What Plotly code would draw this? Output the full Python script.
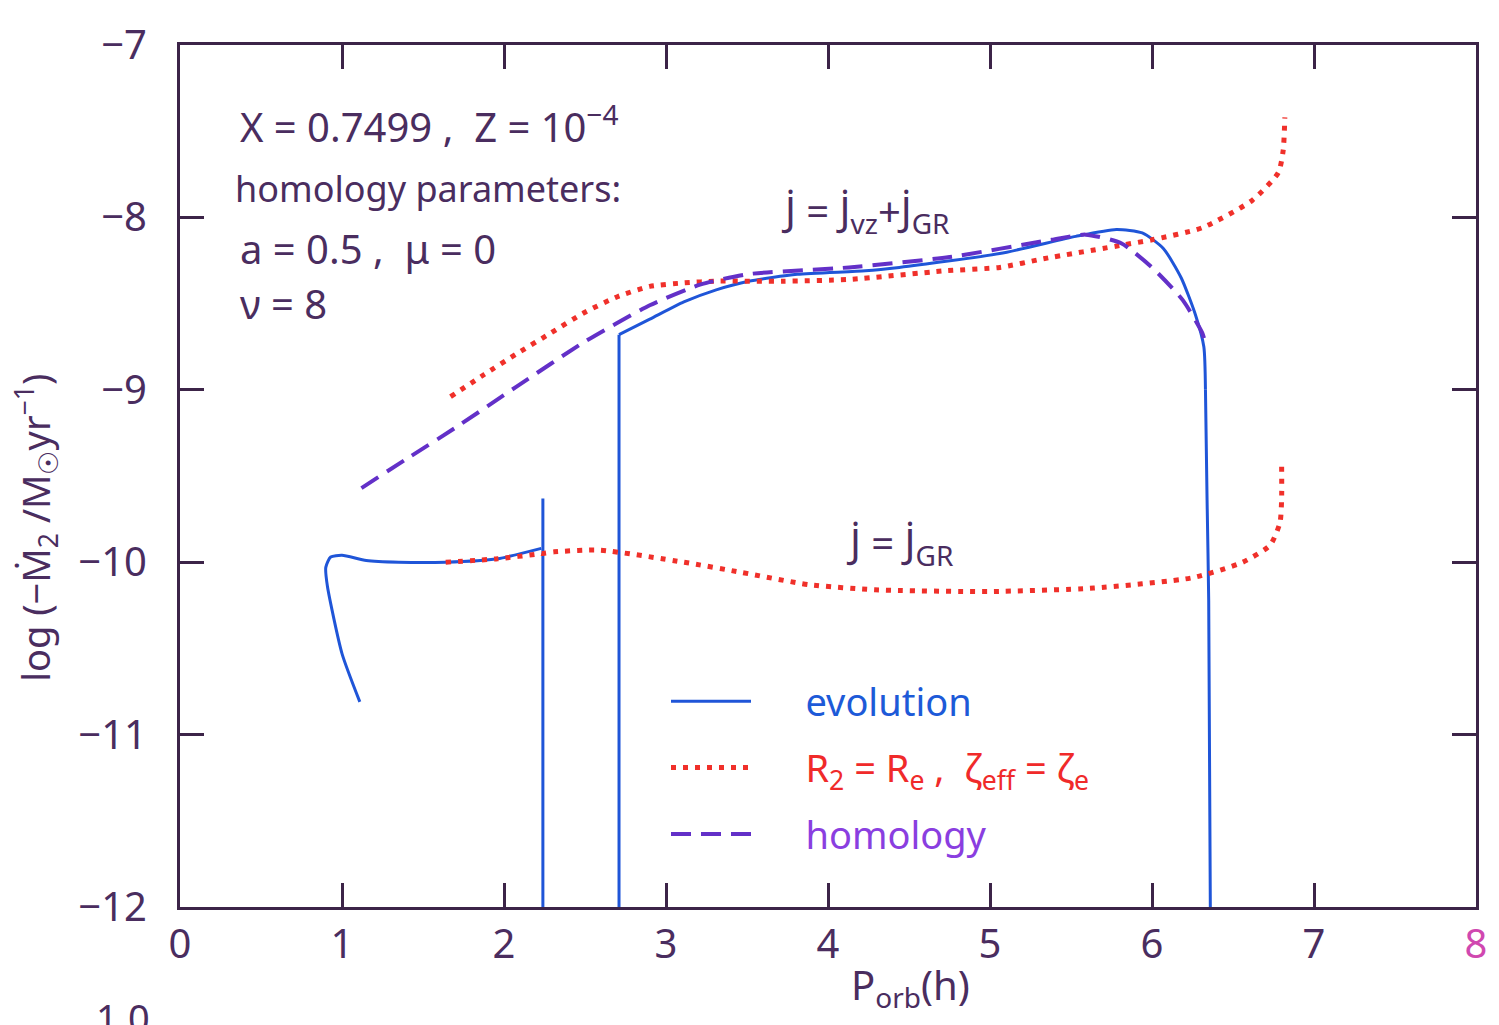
import plotly.graph_objects as go

# ---------------- data ----------------
# evolution (solid blue): lower branch, first detachment, upper branch
evo_lo_x = [1.11, 1.00, 0.91, 0.90, 0.93, 1.00, 1.15, 1.35, 1.64, 1.96, 2.23]
evo_lo_y = [-10.81, -10.53, -10.14, -10.03, -9.97, -9.96, -9.99, -10.00, -10.00, -9.98, -9.92]
evo_v1_x = [2.24, 2.24]
evo_v1_y = [-9.63, -12.0]
evo_v2_x = [2.71, 2.71]
evo_v2_y = [-12.0, -8.68]
evo_hi_x = [2.71, 2.90, 3.11, 3.31, 3.51, 3.81, 4.23, 4.44, 5.06, 5.53, 5.78, 5.94, 6.07, 6.18, 6.27, 6.32, 6.33]
evo_hi_y = [-8.68, -8.59, -8.49, -8.42, -8.37, -8.33, -8.31, -8.29, -8.21, -8.11, -8.07, -8.09, -8.18, -8.35, -8.57, -8.75, -9.00]
evo_v3_x = [6.33, 6.34, 6.35, 6.36]
evo_v3_y = [-9.00, -9.64, -10.22, -12.0]

# R2 = Re, zeta_eff = zeta_e (red dotted): upper (J_VZ + J_GR) and lower (J_GR)
red_up_x = [1.67, 1.88, 2.08, 2.29, 2.50, 2.70, 2.90, 3.11, 3.31, 3.72, 4.13, 4.72, 5.06, 5.33, 5.82, 6.00, 6.31, 6.62, 6.78, 6.81, 6.82]
red_up_y = [-9.04, -8.91, -8.79, -8.67, -8.55, -8.46, -8.40, -8.38, -8.37, -8.37, -8.36, -8.31, -8.29, -8.24, -8.16, -8.13, -8.06, -7.90, -7.74, -7.61, -7.42]
red_lo_x = [1.64, 1.96, 2.23, 2.31, 2.59, 3.11, 3.47, 3.88, 4.29, 5.00, 5.64, 6.25, 6.56, 6.73, 6.79, 6.80, 6.80]
red_lo_y = [-10.00, -9.98, -9.95, -9.94, -9.93, -10.00, -10.06, -10.13, -10.16, -10.17, -10.15, -10.09, -10.00, -9.90, -9.77, -9.64, -9.42]

# homology (purple dashed)
hom_x = [1.12, 1.40, 1.70, 2.08, 2.50, 2.90, 3.21, 3.50, 4.13, 4.75, 5.38, 5.59, 5.81, 6.00, 6.19, 6.31, 6.33]
hom_y = [-9.57, -9.40, -9.22, -8.98, -8.72, -8.51, -8.39, -8.33, -8.29, -8.23, -8.13, -8.10, -8.15, -8.29, -8.48, -8.67, -8.73]

x_ticks = [0, 1, 2, 3, 4, 5, 6, 7, 8]
y_ticks = [-12, -11, -10, -9, -8, -7]

# ---------------- style ----------------
INK = "#4a2d5f"
FRAME = "#3c2448"
BLUE = "#1f55d8"
RED = "#f0302a"
PURPLE = "#6330c8"
FONT = "Noto Sans"
GAP = "\u00a0" * 5

def join(*segs):
    xs, ys = [], []
    for sx, sy in segs:
        if xs:
            xs.append(None); ys.append(None)
        xs += sx; ys += sy
    return xs, ys

ex, ey = join((evo_lo_x, evo_lo_y), (evo_v1_x, evo_v1_y), (evo_v2_x, evo_v2_y),
              (evo_hi_x, evo_hi_y), (evo_v3_x, evo_v3_y))
rx, ry = join((red_up_x, red_up_y), (red_lo_x, red_lo_y))

fig = go.Figure()
fig.add_trace(go.Scatter(
    x=ex, y=ey, mode="lines", line=dict(color=BLUE, width=3, shape="spline", smoothing=0.6),
    name=f"{GAP}<span style='color:#1d5ad8'>evolution</span>", legendgroup="a"))
fig.add_trace(go.Scatter(
    x=rx, y=ry, mode="lines", line=dict(color=RED, width=5, dash="5px,7px", shape="spline", smoothing=0.6),
    name=f"{GAP}<span style='color:#f02a2a'>R<sub>2</sub> = R<sub>e</sub> ,  ζ<sub>eff</sub> = ζ<sub>e</sub></span>",
    legendgroup="b"))
fig.add_trace(go.Scatter(
    x=hom_x, y=hom_y, mode="lines", line=dict(color=PURPLE, width=4, dash="20px,10px", shape="spline", smoothing=0.6),
    name=f"{GAP}<span style='color:#8a3ee0'>homology</span>", legendgroup="c"))

axis_common = dict(
    showline=True, linewidth=3, linecolor=FRAME, mirror="allticks",
    ticks="inside", ticklen=24, tickwidth=3, tickcolor=FRAME,
    showgrid=False, zeroline=False,
    tickfont=dict(family=FONT, size=40, color=INK),
)
fig.update_xaxes(range=[0, 8], tickvals=x_ticks,
                 ticktext=[str(v) for v in x_ticks[:-1]] + ["<span style='color:#d048b0'>8</span>"],
                 ticklabelstandoff=0, **axis_common)
fig.update_yaxes(range=[-12, -7], tickvals=y_ticks,
                 ticktext=[f"−{abs(v)}" for v in y_ticks],
                 ticklabelstandoff=22, **axis_common)

ann = []
def text(x, y, s, size=36, color=INK, xanchor="left", xref="x", yref="y", angle=0):
    ann.append(dict(x=x, y=y, xref=xref, yref=yref, text=s, showarrow=False,
                    xanchor=xanchor, yanchor="middle", textangle=angle,
                    font=dict(family=FONT, size=size, color=color)))

text(0.36, -7.46, "X = 0.7499 ,  Z = 10<sup>−4</sup>", size=40)
text(0.33, -7.83, "homology parameters:", size=36)
text(0.36, -8.18, "a = 0.5 ,  μ = 0", size=40)
text(0.36, -8.50, "ν = 8", size=40)
text(3.70, -7.97, "J̇ = J̇<sub>vz</sub>+J̇<sub>GR</sub>", size=40)
text(4.10, -9.90, "J̇ = J̇<sub>GR</sub>", size=40)
text(-0.111, 0.44, "log (−Ṁ<sub>2</sub> /M<sub>☉</sub>yr<sup>−1</sup>)", size=38,
     xanchor="center", xref="paper", yref="paper", angle=-90)
text(0.516, -0.092, "P<sub>orb</sub>(h)", size=40, xanchor="left", xref="paper", yref="paper")
text(-0.044, -0.128, "1.0", size=38, xanchor="center", xref="paper", yref="paper")

fig.update_layout(
    width=1499, height=1025,
    margin=dict(l=180, r=12, t=45, b=118),
    paper_bgcolor="white", plot_bgcolor="white",
    annotations=ann,
    showlegend=True,
    legend=dict(x=0.375, y=0.275, xanchor="left", yanchor="top",
                bgcolor="rgba(0,0,0,0)", itemwidth=80, tracegroupgap=14,
                font=dict(family=FONT, size=38, color=INK), traceorder="grouped"),
)

fig.write_html("out.html")
